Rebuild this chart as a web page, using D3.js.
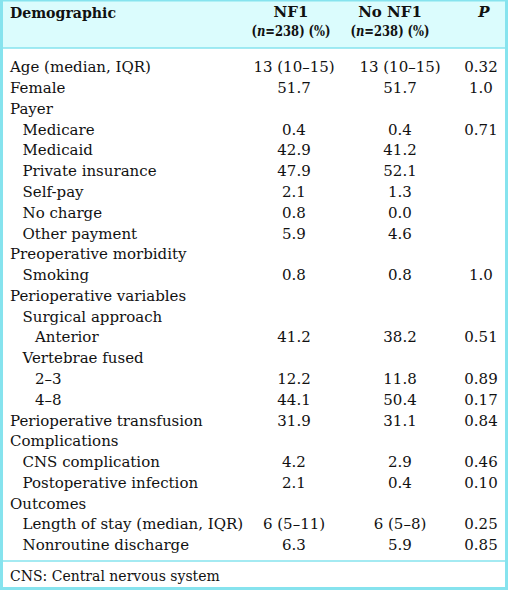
<!DOCTYPE html>
<html><head><meta charset="utf-8">
<script src="https://cdn.jsdelivr.net/npm/d3@7"></script>
<style>body{margin:0;background:#fff}svg{display:block}svg text{font-family:"DejaVu Serif","Liberation Serif",serif}</style>
</head><body><svg id="c" width="508" height="590"></svg>
<script>
const labels = ["Age (median, IQR)","Female","Payer","Medicare","Medicaid","Private insurance","Self-pay","No charge","Other payment","Preoperative morbidity","Smoking","Perioperative variables","Surgical approach","Anterior","Vertebrae fused","2–3","4–8","Perioperative transfusion","Complications","CNS complication","Postoperative infection","Outcomes","Length of stay (median, IQR)","Nonroutine discharge"];
const levels = [0,0,0,1,1,1,1,1,1,0,1,0,1,2,1,2,2,0,0,1,1,0,1,1];
const nf1 = ["13 (10–15)","51.7","","0.4","42.9","47.9","2.1","0.8","5.9","","0.8","","","41.2","","12.2","44.1","31.9","","4.2","2.1","","6 (5–11)","6.3"];
const noNf1 = ["13 (10–15)","51.7","","0.4","41.2","52.1","1.3","0.0","4.6","","0.8","","","38.2","","11.8","50.4","31.1","","2.9","0.4","","6 (5–8)","5.9"];
const pValues = ["0.32","1.0","","0.71","","","","","","","1.0","","","0.51","","0.89","0.17","0.84","","0.46","0.10","","0.25","0.85"];
const columns = ["Demographic","NF1","No NF1","P"];
const footnote = "CNS: Central nervous system";

const svg = d3.select("#c");
const W = 508, H = 590;
const border = "#86e3ee", headBg = "#dbfcfd";
const fs = 15;

const y = d3.scalePoint().domain(d3.range(labels.length)).range([67, 545]);
const colX = d3.scaleOrdinal().domain(columns).range([10, 294, 400, 481]);
const indent = d3.scaleLinear().domain([0, 2]).range([0, 25]);

svg.append("rect").attr("x",0).attr("y",0).attr("width",W).attr("height",48).attr("fill",headBg);
svg.append("rect").attr("x",1.5).attr("y",0).attr("width",W-3).attr("height",H-1.5)
  .attr("fill","none").attr("stroke",border).attr("stroke-width",3);
svg.append("line").attr("x1",0).attr("x2",W).attr("y1",48).attr("y2",48).attr("stroke",border).attr("stroke-width",1.5);
svg.append("line").attr("x1",0).attr("x2",W).attr("y1",561).attr("y2",561).attr("stroke",border).attr("stroke-width",1.5);

const hd = svg.append("g").attr("font-weight","bold").attr("font-size",fs).attr("fill","#111");
hd.append("text").attr("x",colX("Demographic")).attr("y",13).attr("dy","0.35em")
  .attr("textLength",106).attr("lengthAdjust","spacingAndGlyphs").text("Demographic");
[["NF1",291],["No NF1",390]].forEach(([t,x])=>{
  hd.append("text").attr("x",x).attr("y",12).attr("dy","0.35em").attr("text-anchor","middle").text(t);
  const t2 = hd.append("g").attr("transform",`translate(${x},31) scale(0.77,1)`)
    .append("text").attr("dy","0.35em").attr("text-anchor","middle");
  t2.append("tspan").text("(");
  t2.append("tspan").attr("font-style","italic").text("n");
  t2.append("tspan").text("=238) (%)");
});
hd.append("text").attr("x",484).attr("y",12).attr("dy","0.35em").attr("text-anchor","middle").attr("font-style","italic").text("P");

const g = svg.append("g").attr("font-size",fs).attr("fill","#111");
const rows = g.selectAll("g.row").data(labels.map((l,i)=>({l,i}))).join("g").attr("class","row")
  .attr("transform",d=>`translate(0,${y(d.i)})`);
rows.append("text").attr("x",d=>colX("Demographic")+indent(levels[d.i])).attr("dy","0.35em").text(d=>d.l);
rows.append("text").attr("x",colX("NF1")).attr("dy","0.35em").attr("text-anchor","middle").text(d=>nf1[d.i]);
rows.append("text").attr("x",colX("No NF1")).attr("dy","0.35em").attr("text-anchor","middle").text(d=>noNf1[d.i]);
rows.append("text").attr("x",colX("P")).attr("dy","0.35em").attr("text-anchor","middle").text(d=>pValues[d.i]);

svg.append("text").attr("x",10).attr("y",576).attr("dy","0.35em").attr("font-size",fs-1).attr("fill","#111").text(footnote);
</script></body></html>
